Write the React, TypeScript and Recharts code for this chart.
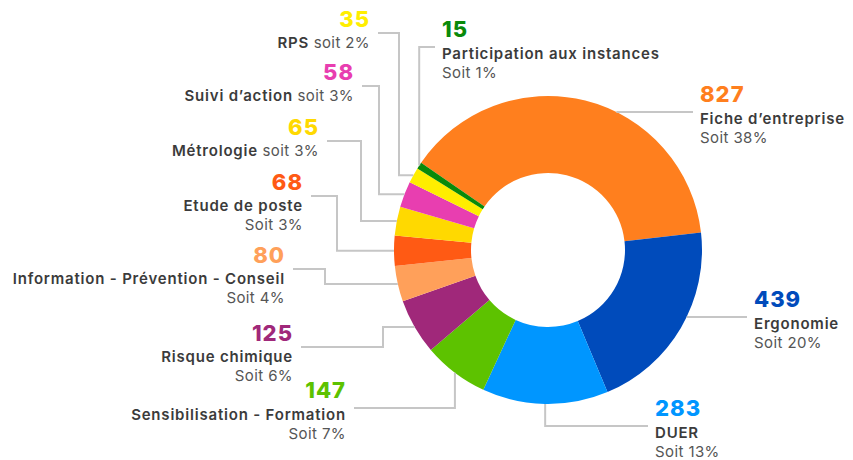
import React from "react";
import { PieChart, Pie, Cell } from "recharts";

const categories = [
  "Fiche d’entreprise",
  "Ergonomie",
  "DUER",
  "Sensibilisation - Formation",
  "Risque chimique",
  "Information - Prévention - Conseil",
  "Etude de poste",
  "Métrologie",
  "Suivi d’action",
  "RPS",
  "Participation aux instances",
];
const counts = [827, 439, 283, 147, 125, 80, 68, 65, 58, 35, 15];
const shares = [38, 20, 13, 7, 6, 4, 3, 3, 3, 2, 1];

const COLORS = [
  "#ff7f1e",
  "#004bbb",
  "#0096ff",
  "#5dc200",
  "#a0287a",
  "#ffa05a",
  "#ff5a14",
  "#ffd900",
  "#e83eb0",
  "#ffee00",
  "#0a8a0a",
];

// label placement: where the leader line meets the text, and how it bends
// mode: "straight" = horizontal into the ring, "v" = go over then down/up, "h" = elbow at ex
const LABELS = [
  { side: "right", x: 693, y: 112, mode: "straight", inline: false },
  { side: "right", x: 747, y: 317, mode: "straight", inline: false },
  { side: "right", x: 648, y: 426, mode: "v", inline: false },
  { side: "left", x: 354, y: 408, mode: "v", inline: false },
  { side: "left", x: 301, y: 347, mode: "h", ex: 383, inline: false },
  { side: "left", x: 293, y: 269, mode: "h", ex: 325, inline: false },
  { side: "left", x: 311, y: 196, mode: "h", ex: 337, inline: false },
  { side: "left", x: 327, y: 141, mode: "h", ex: 361, inline: true },
  { side: "left", x: 362, y: 86, mode: "h", ex: 379, inline: true },
  { side: "left", x: 378, y: 33, mode: "h", ex: 399, inline: true },
  { side: "right", x: 435, y: 47, mode: "v", inline: false },
];

const data = categories.map((name, i) => ({
  name,
  value: counts[i],
  share: shares[i],
}));

const FONT = "Inter, 'Open Sans', sans-serif";
const RAD = Math.PI / 180;

const renderLabel = (props: any) => {
  const { cx, cy, midAngle, outerRadius, index } = props;
  const cfg = LABELS[index];
  const mx = cx + outerRadius * Math.cos(-midAngle * RAD);
  const my = cy + outerRadius * Math.sin(-midAngle * RAD);
  const right = cfg.side === "right";

  let pts: number[][];
  if (cfg.mode === "straight") {
    const dx = Math.sqrt(Math.max(0, outerRadius ** 2 - (cfg.y - cy) ** 2));
    pts = [
      [cfg.x, cfg.y],
      [right ? cx + dx : cx - dx, cfg.y],
    ];
  } else if (cfg.mode === "v") {
    pts = [
      [cfg.x, cfg.y],
      [mx, cfg.y],
      [mx, my],
    ];
  } else {
    pts = [
      [cfg.x, cfg.y],
      [cfg.ex as number, cfg.y],
      [cfg.ex as number, my],
      [mx, my],
    ];
  }

  const tx = right ? cfg.x + 7 : cfg.x - 8;
  const anchor = right ? "start" : "end";
  const nameY = cfg.y + (cfg.mode === "h" ? 15 : 11.5);

  return (
    <g key={`lbl-${index}`}>
      <polyline
        points={pts.map((p) => p.join(",")).join(" ")}
        fill="none"
        stroke="#c6c6c6"
        strokeWidth={2}
      />
      <text
        x={tx}
        y={nameY - 21.5}
        textAnchor={anchor}
        fill={COLORS[index]}
        fontFamily={FONT}
        fontSize={22}
        fontWeight={800}
        letterSpacing={1}
      >
        {counts[index]}
      </text>
      {cfg.inline ? (
        <text x={tx} y={nameY} textAnchor={anchor} fontFamily={FONT} fontSize={15}>
          <tspan fill="#3b3b3b" fontWeight={600} letterSpacing={0.8}>
            {categories[index]}
          </tspan>
          <tspan fill="#555555" fontWeight={400} letterSpacing={0.4}>
            {` soit ${shares[index]}%`}
          </tspan>
        </text>
      ) : (
        <>
          <text
            x={tx}
            y={nameY}
            textAnchor={anchor}
            fill="#3b3b3b"
            fontFamily={FONT}
            fontSize={15}
            fontWeight={600}
            letterSpacing={0.8}
          >
            {categories[index]}
          </text>
          <text
            x={tx}
            y={nameY + 19}
            textAnchor={anchor}
            fill="#555555"
            fontFamily={FONT}
            fontSize={15}
            fontWeight={400}
            letterSpacing={0.4}
          >
            {`Soit ${shares[index]}%`}
          </text>
        </>
      )}
    </g>
  );
};

export default function App() {
  return (
    <div style={{ width: 853, height: 460, background: "#fff" }}>
      <style>{"body{margin:0}"}</style>
      <PieChart width={853} height={460} margin={{ top: 0, right: 0, bottom: 0, left: 0 }}>
        <Pie
          data={data}
          dataKey="value"
          nameKey="name"
          cx={548}
          cy={250}
          innerRadius={77}
          outerRadius={154}
          startAngle={145.5}
          endAngle={-214.5}
          stroke="none"
          label={renderLabel}
          labelLine={false}
          isAnimationActive={false}
        >
          {data.map((entry, index) => (
            <Cell key={entry.name} fill={COLORS[index]} />
          ))}
        </Pie>
      </PieChart>
    </div>
  );
}
